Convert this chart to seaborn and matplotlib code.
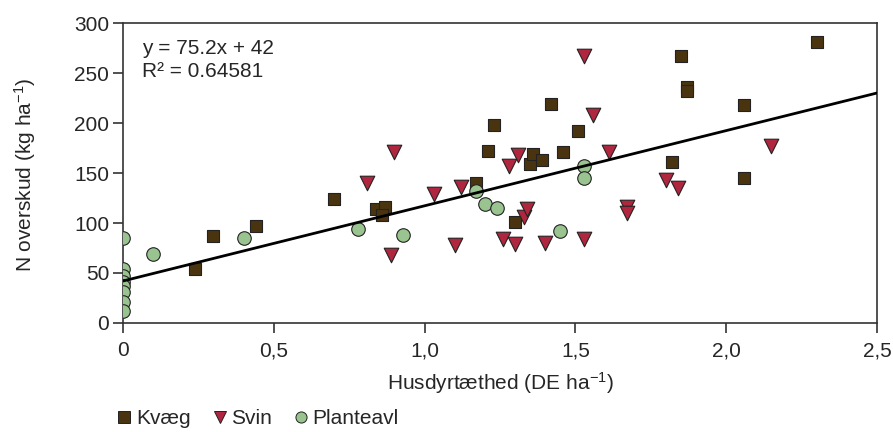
import matplotlib
matplotlib.use("Agg")
import matplotlib.pyplot as plt
import numpy as np
import pandas as pd
import seaborn as sns
from matplotlib.lines import Line2D

# Husdyrtæthed (DE/ha) og N-overskud (kg/ha) pr. bedriftstype
kvaeg_x = [0.24, 0.30, 0.44, 0.70, 0.84, 0.87, 0.86, 1.17, 1.21, 1.23, 1.30, 1.35,
           1.36, 1.39, 1.42, 1.46, 1.51, 1.82, 1.85, 1.87, 1.87, 2.06, 2.06, 2.30]
kvaeg_y = [54, 87, 97, 124, 114, 116, 108, 140, 172, 198, 101, 159,
           169, 163, 219, 171, 192, 161, 267, 236, 232, 218, 145, 281]

svin_x = [0.81, 0.89, 0.90, 1.03, 1.10, 1.12, 1.26, 1.28, 1.30, 1.31, 1.33,
          1.34, 1.40, 1.53, 1.53, 1.56, 1.61, 1.67, 1.67, 1.80, 1.84, 2.15]
svin_y = [140, 68, 171, 129, 78, 136, 84, 157, 79, 168, 106,
          114, 80, 267, 84, 208, 171, 116, 110, 143, 135, 177]

plante_x = [0, 0, 0, 0, 0, 0, 0, 0, 0.10, 0.40, 0.78, 0.93, 1.17, 1.20,
            1.24, 1.45, 1.53, 1.53]
plante_y = [85, 54, 47, 41, 37, 31, 21, 12, 69, 85, 94, 88, 132, 119,
            115, 92, 157, 145]

# Regressionslinje
slope = 75.2
intercept = 42
r2 = 0.64581
line_x = [0.0, 2.5]

x_ticks = [0, 0.5, 1.0, 1.5, 2.0, 2.5]
x_ticklabels = ["0", "0,5", "1,0", "1,5", "2,0", "2,5"]
y_ticks = [0, 50, 100, 150, 200, 250, 300]

groups = ["Kvæg", "Svin", "Planteavl"]
colors = {"Kvæg": "#4a340f", "Svin": "#b0263e", "Planteavl": "#99c38f"}
markers = {"Kvæg": "s", "Svin": "v", "Planteavl": "o"}
sizes = {"Kvæg": 80, "Svin": 110, "Planteavl": 95}

df = pd.DataFrame({
    "x": kvaeg_x + svin_x + plante_x,
    "y": kvaeg_y + svin_y + plante_y,
    "type": ["Kvæg"] * len(kvaeg_x) + ["Svin"] * len(svin_x) + ["Planteavl"] * len(plante_x),
})
line_df = pd.DataFrame({"x": line_x, "y": [slope * v + intercept for v in line_x]})

FS = 15

sns.set_theme(style="ticks")
plt.rcParams["font.family"] = ["Liberation Sans", "DejaVu Sans"]
plt.rcParams["mathtext.fontset"] = "custom"
plt.rcParams["mathtext.rm"] = "Liberation Sans"
plt.rcParams["mathtext.it"] = "Liberation Sans"

fig = plt.figure(figsize=(8.93, 4.32), dpi=100)
ax = fig.add_axes([123 / 893, 1 - 323 / 432, 754 / 893, 300 / 432])

for g in groups:
    sub = df[df["type"] == g]
    sns.scatterplot(data=sub, x="x", y="y", ax=ax, color=colors[g], marker=markers[g],
                    s=sizes[g], edgecolor="#222222", linewidth=0.8, legend=False, zorder=3)

sns.lineplot(data=line_df, x="x", y="y", ax=ax, color="black", linewidth=2.0, zorder=4)

ax.set_xlim(0, 2.5)
ax.set_ylim(0, 300)
ax.set_xticks(x_ticks)
ax.set_xticklabels(x_ticklabels)
ax.set_yticks(y_ticks)
ax.tick_params(axis="both", direction="out", width=1.2, color="#333333", labelsize=FS)
ax.tick_params(axis="x", length=7, pad=6)
ax.tick_params(axis="y", length=7, pad=3)
for sp in ax.spines.values():
    sp.set_color("#333333")
    sp.set_linewidth(1.2)

ax.set_xlabel("Husdyrtæthed (DE ha$^{-1}$)", fontsize=FS)
ax.set_ylabel("N overskud (kg ha$^{-1}$)", fontsize=FS)
ax.xaxis.set_label_coords(0.5, -0.2)
ax.xaxis.label.set_va("center")
ax.yaxis.set_label_coords(-0.13, 0.495)
ax.yaxis.label.set_va("center")

ax.text(0.025, 0.947, f"y = {slope}x + {intercept}\nR² = {r2}", transform=ax.transAxes,
        ha="left", va="top", fontsize=FS, linespacing=1.28)

handles = [Line2D([], [], linestyle="none", marker=markers[g], markersize=8,
                  markerfacecolor=colors[g], markeredgecolor="#222222",
                  markeredgewidth=0.7, label=g) for g in groups]
fig.legend(handles=handles, loc="center left", bbox_to_anchor=(114 / 893, 1 - 419 / 432),
           ncol=3, frameon=False, fontsize=FS, handletextpad=0.05,
           columnspacing=0.9, handlelength=1.0, borderpad=0, borderaxespad=0)

fig.savefig("out.png", dpi=100)
